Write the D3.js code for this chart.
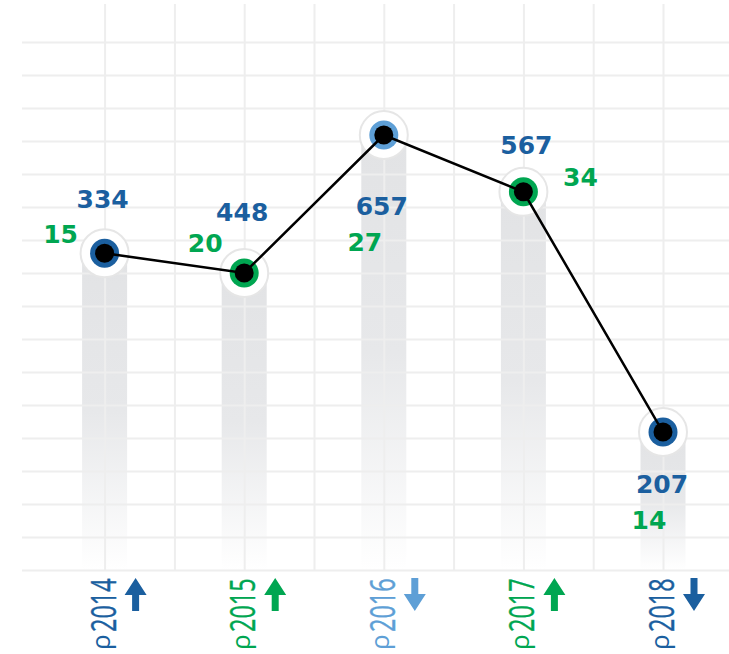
<!DOCTYPE html>
<html>
<head>
<meta charset="utf-8">
<script src="https://cdn.jsdelivr.net/npm/d3@7"></script>
<style>
  body { margin: 0; background: #fff; }
</style>
</head>
<body>
<script>
// data
const years = [2014, 2015, 2016, 2017, 2018];
const levels = [480, 450, 659, 573, 209];   // plotted height of each point
const totals = [334, 448, 657, 567, 207];   // blue numbers
const counts = [15, 20, 27, 34, 14];        // green numbers
const trend = ["up", "up", "down", "up", "down"];
const tone = ["dark", "green", "light", "green", "dark"];

const width = 729;
const height = 654;

const colors = { dark: "#1b5f9f", green: "#00a651", light: "#5e9fd6" };

// label placement relative to each point
const totalOffset = [[-2, -45], [-2, -52], [-2, 80], [3, -38], [-1, 61]];
const countOffset = [[-44, -10], [-39, -21], [-19, 116], [57, -6], [-14, 97]];

const svg = d3.select("body").append("svg")
    .attr("width", width)
    .attr("height", height);

const x = d3.scaleLinear().domain([2014, 2018]).range([104.6, 663]);
const y = d3.scaleLinear().domain([0, 800]).range([570, 42]);

const pts = years.map((yr, i) => ({
    year: yr, level: levels[i], total: totals[i], count: counts[i],
    trend: trend[i], color: colors[tone[i]], i: i
}));

// gradient for the fading columns
const grad = svg.append("defs").append("linearGradient")
    .attr("id", "fade")
    .attr("x1", 0).attr("y1", 0).attr("x2", 0).attr("y2", 1);
grad.append("stop").attr("offset", 0).attr("stop-color", "#e2e3e5");
grad.append("stop").attr("offset", 0.5).attr("stop-color", "#e7e8ea");
grad.append("stop").attr("offset", 1).attr("stop-color", "#ffffff");

// columns
svg.append("g").selectAll("rect")
    .data(pts)
    .enter().append("rect")
    .attr("x", d => x(d.year) - 22.5)
    .attr("y", d => y(d.level))
    .attr("width", 45)
    .attr("height", d => y(0) - y(d.level))
    .attr("fill", "url(#fade)");

// grid, drawn over the columns
svg.append("g")
    .attr("transform", "translate(" + width + ",0)")
    .call(d3.axisLeft(y).tickValues(d3.range(0, 801, 50)).tickSize(width - 22).tickFormat(""))
    .call(g => g.select(".domain").remove())
    .call(g => g.selectAll("line").attr("stroke", "#eeeeee").attr("stroke-width", 2));

svg.append("g")
    .attr("transform", "translate(0," + y(0) + ")")
    .call(d3.axisBottom(x).tickValues(d3.range(2014, 2018.01, 0.5)).tickSize(-(y(0) - 4)).tickFormat(""))
    .call(g => g.select(".domain").remove())
    .call(g => g.selectAll("line").attr("stroke", "#eeeeee").attr("stroke-width", 2));

// halos and rings
svg.append("g").selectAll("circle")
    .data(pts)
    .enter().append("circle")
    .attr("cx", d => x(d.year))
    .attr("cy", d => y(d.level))
    .attr("r", 24)
    .attr("fill", "#fff")
    .attr("stroke", "#e6e6e6")
    .attr("stroke-width", 2);

svg.append("g").selectAll("circle")
    .data(pts)
    .enter().append("circle")
    .attr("cx", d => x(d.year))
    .attr("cy", d => y(d.level))
    .attr("r", 14.5)
    .attr("fill", d => d.color);

const line = d3.line()
    .x(d => x(d.year))
    .y(d => y(d.level));

svg.append("path")
    .datum(pts)
    .attr("d", line)
    .attr("fill", "none")
    .attr("stroke", "#000")
    .attr("stroke-width", 2.5);

svg.append("g").selectAll("circle")
    .data(pts)
    .enter().append("circle")
    .attr("cx", d => x(d.year))
    .attr("cy", d => y(d.level))
    .attr("r", 9.5)
    .attr("fill", "#000");

// value labels
const font = "'DejaVu Sans', sans-serif";

svg.append("g").selectAll("text")
    .data(pts)
    .enter().append("text")
    .attr("x", d => x(d.year) + totalOffset[d.i][0])
    .attr("y", d => y(d.level) + totalOffset[d.i][1])
    .attr("text-anchor", "middle")
    .attr("font-family", font)
    .attr("font-weight", "bold")
    .attr("font-size", 25)
    .attr("fill", colors.dark)
    .text(d => d.total);

svg.append("g").selectAll("text")
    .data(pts)
    .enter().append("text")
    .attr("x", d => x(d.year) + countOffset[d.i][0])
    .attr("y", d => y(d.level) + countOffset[d.i][1])
    .attr("text-anchor", "middle")
    .attr("font-family", font)
    .attr("font-weight", "bold")
    .attr("font-size", 25)
    .attr("fill", colors.green)
    .text(d => d.count);

// year labels along the bottom
const yearLabel = svg.append("g").selectAll("g")
    .data(pts)
    .enter().append("g")
    .attr("fill", d => d.color);

yearLabel.append("text")
    .attr("transform", d => "translate(" + (x(d.year) + 5.5) + ",650) rotate(-90)")
    .attr("font-family", "'Open Sans', sans-serif")
    .attr("font-size", 26)
    .text("ρ");

yearLabel.append("text")
    .attr("transform", d => "translate(" + (x(d.year) + 11) + ",632) rotate(-90) scale(0.69,1)")
    .attr("font-family", "'Open Sans', sans-serif")
    .attr("font-size", 34)
    .attr("stroke", d => d.color)
    .attr("stroke-width", 0.4)
    .text(d => d.year);

yearLabel.append("path")
    .attr("d", d => {
        const cx = x(d.year) + 31;
        if (d.trend === "up") {
            return "M" + (cx - 3.5) + ",611V595H" + (cx - 11) + "L" + cx + ",578L" + (cx + 11) + ",595H" + (cx + 3.5) + "V611Z";
        }
        return "M" + (cx - 3.5) + ",578V594H" + (cx - 11) + "L" + cx + ",611L" + (cx + 11) + ",594H" + (cx + 3.5) + "V578Z";
    });
</script>
</body>
</html>
